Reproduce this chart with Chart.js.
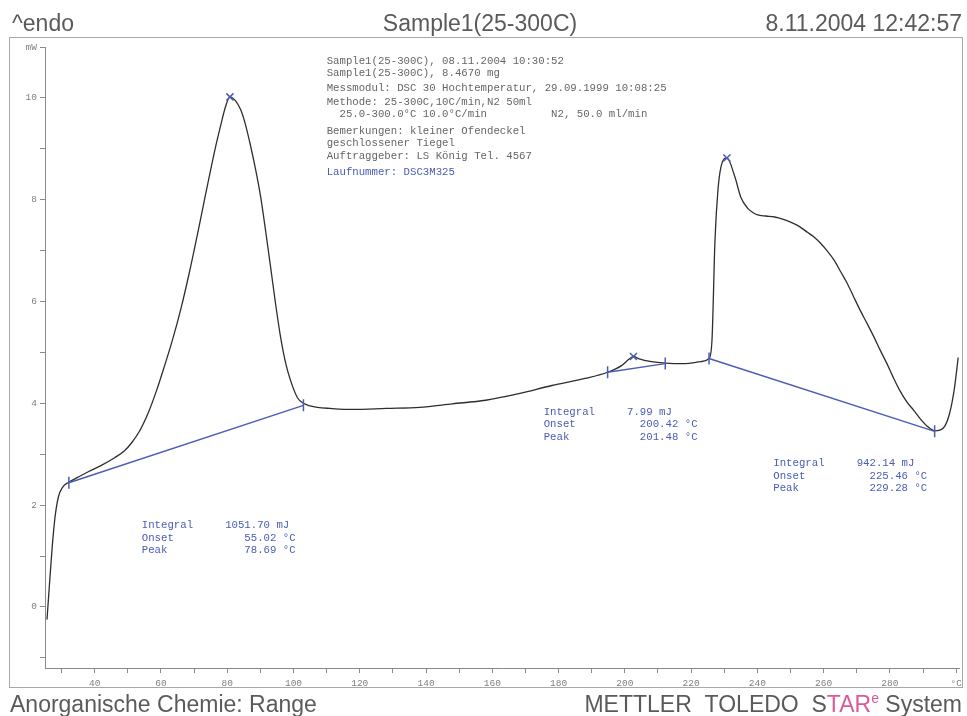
<!DOCTYPE html>
<html>
<head>
<meta charset="utf-8">
<script src="https://cdn.jsdelivr.net/npm/chart.js@4/dist/chart.umd.min.js"></script>
<style>
  html, body { margin: 0; padding: 0; background: #fff; }
  #wrap { width: 967px; height: 716px; position: relative; }
</style>
</head>
<body>
<div id="wrap"><canvas id="dsc"></canvas></div>
<script>
// ── Data ─────────────────────────────────────────────────────────────────────
// DSC curve, temperature (°C) vs heat flow (mW)
const TEMP_C = [
  25.6, 26.3, 27.2, 28.0, 29.0, 30.3, 32.2, 35.0, 38.2, 42.0, 46.0, 49.0,
  51.1, 53.5, 56.2, 58.5, 61.0, 63.5, 66.1, 68.5, 71.2, 73.2, 75.1, 76.7,
  78.1, 79.5, 80.8, 82.4, 84.1, 85.6, 87.1, 88.6, 90.1, 91.6, 93.1, 94.6,
  96.1, 97.6, 99.1, 101.2, 103.0, 105.0, 107.2, 111.0, 118.0, 128.0, 138.0,
  148.0, 158.0, 168.0, 178.0, 188.0, 194.8, 199.0, 201.5, 202.6, 204.1,
  208.0, 212.2, 218.2, 223.0, 225.4, 226.3, 227.2, 228.1, 229.0, 230.8,
  233.2, 235.0, 237.1, 238.6, 240.1, 242.6, 245.2, 247.6, 250.0, 252.5,
  255.1, 257.0, 259.0, 261.0, 263.2, 265.0, 267.1, 269.0, 271.0, 273.1,
  275.2, 277.1, 279.1, 281.0, 283.0, 285.1, 287.2, 289.1, 291.1, 293.5,
  296.2, 298.0, 299.5, 300.6,
];
const HEAT_FLOW_MW = [
  -0.25, 0.40, 1.20, 1.75, 2.15, 2.35, 2.45, 2.55, 2.66, 2.78, 2.93, 3.07,
  3.22, 3.45, 3.82, 4.22, 4.72, 5.25, 5.88, 6.55, 7.38, 8.02, 8.62, 9.10,
  9.48, 9.83, 10.02, 9.95, 9.76, 9.45, 9.04, 8.58, 8.05, 7.38, 6.67, 5.95,
  5.30, 4.80, 4.45, 4.11, 4.00, 3.95, 3.92, 3.90, 3.88, 3.90, 3.92,
  3.99, 4.06, 4.19, 4.35, 4.49, 4.61, 4.74, 4.88, 4.92, 4.88,
  4.82, 4.79, 4.78, 4.82, 4.88, 5.24, 7.20, 8.19, 8.64, 8.82,
  8.45, 8.05, 7.83, 7.75, 7.70, 7.68, 7.66, 7.62, 7.56, 7.48,
  7.36, 7.27, 7.15, 7.00, 6.81, 6.60, 6.36, 6.10, 5.83, 5.57,
  5.30, 5.04, 4.78, 4.51, 4.25, 4.03, 3.86, 3.70, 3.56, 3.46,
  3.52, 3.80, 4.31, 4.90,
];

// integration baselines (one per peak)
const BASE_START_T  = [32.2, 194.8, 225.4];
const BASE_START_MW = [2.44, 4.61, 4.88];
const BASE_END_T    = [103.0, 212.2, 293.5];
const BASE_END_MW   = [3.96, 4.78, 3.45];

// peak maxima marked with a cross
const PEAK_MARK_T  = [80.8, 202.6, 230.8];
const PEAK_MARK_MW = [10.02, 4.92, 8.82];

// evaluation results
const INTEGRALS_MJ = ["1051.70", "7.99", "942.14"];
const ONSETS_C     = ["55.02", "200.42", "225.46"];
const PEAKS_C      = ["78.69", "201.48", "229.28"];

// axes
const X_LABELS = [40, 60, 80, 100, 120, 140, 160, 180, 200, 220, 240, 260, 280];
const Y_LABELS = [0, 2, 4, 6, 8, 10];

// page texts
const HEADER_LEFT   = "^endo";
const HEADER_CENTER = "Sample1(25-300C)";
const HEADER_RIGHT  = "8.11.2004 12:42:57";
const FOOTER_LEFT   = "Anorganische Chemie: Range";
const INFO_LINES = [
  "Sample1(25-300C), 08.11.2004 10:30:52",
  "Sample1(25-300C), 8.4670 mg",
  "Messmodul: DSC 30 Hochtemperatur, 29.09.1999 10:08:25",
  "Methode: 25-300C,10C/min,N2 50ml",
  "  25.0-300.0°C 10.0°C/min          N2, 50.0 ml/min",
  "Bemerkungen: kleiner Ofendeckel",
  "geschlossener Tiegel",
  "Auftraggeber: LS König Tel. 4567",
  "Laufnummer: DSC3M325",
];

// ── Style ────────────────────────────────────────────────────────────────────
const CURVE_COLOR = "#2e2e2e";
const BLUE        = "#4a5cb6";
const GREY_TEXT   = "#5a5a5a";
const AXIS_GREY   = "#8a8a8a";
const PINK        = "#dc5a9a";
const MONO        = "'Liberation Mono', 'DejaVu Sans Mono', monospace";
const SANS        = "'Liberation Sans', Arial, sans-serif";

// annotation anchors in data units (label column x, first row y)
const ANNOT_X = [54.2, 175.5, 244.8];
const ANNOT_Y = [1.60, 3.83, 2.82];
const INFO_X = 110, INFO_Y = 10.72;
const INFO_DY = [0, 11.5, 27, 41, 53, 70, 82, 95, 111];

// ── Helpers ──────────────────────────────────────────────────────────────────
function xy(xs, ys) {
  return xs.map((x, i) => ({ x, y: ys[i] }));
}

function pad(str, col) {
  return str + " ".repeat(Math.max(col - str.length, 1));
}

function annotationRows(i) {
  return [
    pad("Integral", 13) + INTEGRALS_MJ[i] + " mJ",
    pad("Onset", 21 - ONSETS_C[i].length) + ONSETS_C[i] + " °C",
    pad("Peak", 21 - PEAKS_C[i].length) + PEAKS_C[i] + " °C",
  ];
}

const limitPoints = xy(BASE_START_T.concat(BASE_END_T), BASE_START_MW.concat(BASE_END_MW));

// ── Plugin: page decoration + texts ──────────────────────────────────────────
const pagePlugin = {
  id: "page",
  afterDraw(chart) {
    const { ctx, scales: { x, y } } = chart;
    ctx.save();

    // frame
    ctx.strokeStyle = "#a8a8a8";
    ctx.lineWidth = 1;
    ctx.strokeRect(9.5, 37.5, 953, 650);

    // header
    ctx.fillStyle = GREY_TEXT;
    ctx.font = `23px ${SANS}`;
    ctx.textBaseline = "alphabetic";
    ctx.textAlign = "left";
    ctx.fillText(HEADER_LEFT, 12, 31);
    ctx.textAlign = "center";
    ctx.fillText(HEADER_CENTER, 480, 31);
    ctx.textAlign = "right";
    ctx.fillText(HEADER_RIGHT, 962, 31);

    // footer
    ctx.textAlign = "left";
    ctx.fillText(FOOTER_LEFT, 10, 712);
    const parts = [
      ["METTLER  TOLEDO  S", GREY_TEXT, 23, 0],
      ["TAR", PINK, 23, 0],
      ["e", PINK, 14, -9],
      [" System", GREY_TEXT, 23, 0],
    ];
    let total = 0;
    for (const [t, , size] of parts) { ctx.font = `${size}px ${SANS}`; total += ctx.measureText(t).width; }
    let cx = 962 - total;
    for (const [t, col, size, dy] of parts) {
      ctx.font = `${size}px ${SANS}`;
      ctx.fillStyle = col;
      ctx.fillText(t, cx, 712 + dy);
      cx += ctx.measureText(t).width;
    }

    // measurement info block
    ctx.font = `10.7px ${MONO}`;
    ctx.textBaseline = "middle";
    const ix = x.getPixelForValue(INFO_X), iy = y.getPixelForValue(INFO_Y);
    INFO_LINES.forEach((line, i) => {
      ctx.fillStyle = i === INFO_LINES.length - 1 ? BLUE : "#666";
      ctx.fillText(line, ix, iy + INFO_DY[i]);
    });

    // peak evaluations
    ctx.fillStyle = BLUE;
    INTEGRALS_MJ.forEach((_, i) => {
      const ax = x.getPixelForValue(ANNOT_X[i]), ay = y.getPixelForValue(ANNOT_Y[i]);
      annotationRows(i).forEach((row, r) => ctx.fillText(row, ax, ay + r * 12.5));
    });

    ctx.restore();
  },
};

// ── Chart ────────────────────────────────────────────────────────────────────
new Chart(document.getElementById("dsc"), {
  type: "scatter",
  data: {
    datasets: [
      {
        data: xy(TEMP_C, HEAT_FLOW_MW),
        showLine: true,
        borderColor: CURVE_COLOR,
        borderWidth: 1.3,
        pointRadius: 0,
        cubicInterpolationMode: "monotone",
        order: 3,
      },
      ...BASE_START_T.map((t, i) => ({
        data: [{ x: t, y: BASE_START_MW[i] }, { x: BASE_END_T[i], y: BASE_END_MW[i] }],
        showLine: true,
        borderColor: BLUE,
        borderWidth: 1.4,
        pointRadius: 0,
        order: 2,
      })),
      {
        data: limitPoints,
        pointStyle: "line",
        rotation: 90,
        pointRadius: 6,
        borderColor: BLUE,
        borderWidth: 1.5,
        order: 1,
      },
      {
        data: xy(PEAK_MARK_T, PEAK_MARK_MW),
        pointStyle: "crossRot",
        pointRadius: 5,
        borderColor: BLUE,
        borderWidth: 1.5,
        order: 1,
      },
    ],
  },
  options: {
    responsive: true,
    maintainAspectRatio: false,
    animation: false,
    events: [],
    layout: { padding: { top: 47, right: 6, left: 0, bottom: 0 } },
    plugins: { legend: { display: false }, tooltip: { enabled: false } },
    scales: {
      x: {
        type: "linear",
        min: 25, max: 301,
        afterFit: (axis) => { axis.height = 48; },
        border: { color: AXIS_GREY, width: 1 },
        grid: { drawOnChartArea: false, drawTicks: true, tickLength: 5, color: AXIS_GREY },
        ticks: {
          stepSize: 10,
          includeBounds: false,
          autoSkip: false,
          maxRotation: 0,
          padding: 5,
          color: "#808080",
          font: { family: MONO, size: 9.5 },
          callback: (v) => (X_LABELS.includes(v) ? String(v) : v === 300 ? "°C" : ""),
        },
      },
      y: {
        type: "linear",
        min: -1.2, max: 11,
        afterFit: (axis) => { axis.width = 45; },
        border: { color: AXIS_GREY, width: 1 },
        grid: { drawOnChartArea: false, drawTicks: true, tickLength: 5, color: AXIS_GREY },
        ticks: {
          stepSize: 1,
          includeBounds: false,
          autoSkip: false,
          padding: 3,
          color: "#808080",
          font: { family: MONO, size: 9.5 },
          callback: (v) => (Y_LABELS.includes(v) ? String(v) : v === 11 ? "mW" : ""),
        },
      },
    },
  },
  plugins: [pagePlugin],
});
</script>
</body>
</html>
